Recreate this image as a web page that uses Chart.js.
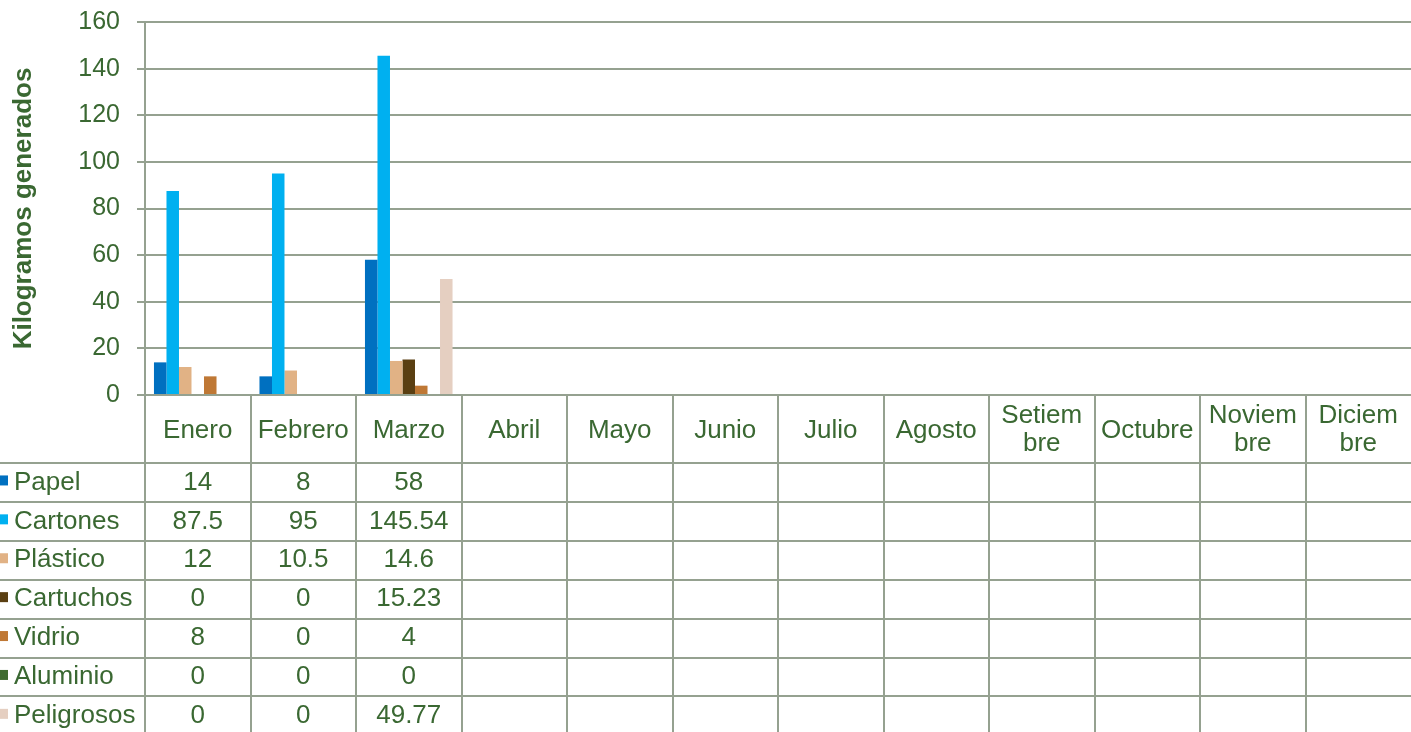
<!DOCTYPE html>
<html lang="es">
<head>
<meta charset="utf-8">
<title>Kilogramos generados</title>
<script src="https://cdn.jsdelivr.net/npm/chart.js@4.4.0/dist/chart.umd.min.js"></script>
<style>
    html, body { margin: 0; padding: 0; background: #ffffff; }
    canvas { display: block; }
</style>
</head>
<body>
<canvas id="graficoResiduos" width="1411" height="732"></canvas>
<script>
// Datos del gráfico
const meses = ['Enero', 'Febrero', 'Marzo', 'Abril', 'Mayo', 'Junio', 'Julio', 'Agosto',
    ['Setiem', 'bre'], 'Octubre', ['Noviem', 'bre'], ['Diciem', 'bre']];

const papel      = [14, 8, 58, null, null, null, null, null, null, null, null, null];
const cartones   = [87.5, 95, 145.54, null, null, null, null, null, null, null, null, null];
const plastico   = [12, 10.5, 14.6, null, null, null, null, null, null, null, null, null];
const cartuchos  = [0, 0, 15.23, null, null, null, null, null, null, null, null, null];
const vidrio     = [8, 0, 4, null, null, null, null, null, null, null, null, null];
const aluminio   = [0, 0, 0, null, null, null, null, null, null, null, null, null];
const peligrosos = [0, 0, 49.77, null, null, null, null, null, null, null, null, null];

const nombres = ['Papel', 'Cartones', 'Plástico', 'Cartuchos', 'Vidrio', 'Aluminio', 'Peligrosos'];
const series  = [papel, cartones, plastico, cartuchos, vidrio, aluminio, peligrosos];
const colores = ['#0070C0', '#00B0F0', '#E1B285', '#5A3F12', '#BF7835', '#3F6B30', '#E5CFC1'];

const tituloY = 'Kilogramos generados';
const ejeMin = 0;
const ejeMax = 160;
const ejePaso = 20;

// Estilos generales
const VERDE = '#3A6832';
const GRILLA = '#95A190';
const FUENTE = '"Liberation Sans", Arial, sans-serif';
const ALTO_CABECERA = 68;
const ALTO_FILA = 38.9;

// Plugin que dibuja la tabla de datos debajo del gráfico
const tablaDatos = {
    id: 'tablaDatos',
    afterDraw(chart) {
        const ctx = chart.ctx;
        const area = chart.chartArea;
        const x = chart.scales.x;
        const anchoCol = (area.right - area.left) / meses.length;
        const arriba = area.bottom;
        const inicioFilas = arriba + ALTO_CABECERA;
        const fondo = chart.height;

        ctx.save();
        ctx.strokeStyle = GRILLA;
        ctx.lineWidth = 2;

        // Líneas horizontales de las filas
        for (let i = 0; i <= nombres.length; i++) {
            const y = Math.round(inicioFilas + i * ALTO_FILA);
            ctx.beginPath();
            ctx.moveTo(0, y);
            ctx.lineTo(area.right, y);
            ctx.stroke();
        }

        // Líneas verticales de las columnas
        for (let i = 0; i < meses.length; i++) {
            const bordeIzq = Math.round(x.getPixelForValue(i) - anchoCol / 2);
            ctx.beginPath();
            ctx.moveTo(bordeIzq, arriba);
            ctx.lineTo(bordeIzq, fondo);
            ctx.stroke();
        }

        ctx.fillStyle = VERDE;
        ctx.font = '26px ' + FUENTE;
        ctx.textAlign = 'center';
        ctx.textBaseline = 'middle';

        // Cabecera con los meses
        meses.forEach((mes, i) => {
            const cx = x.getPixelForValue(i);
            const cy = arriba + ALTO_CABECERA / 2;
            if (Array.isArray(mes)) {
                ctx.fillText(mes[0], cx, cy - 13);
                ctx.fillText(mes[1], cx, cy + 15);
            } else {
                ctx.fillText(mes, cx, cy + 2);
            }
        });

        // Filas con leyenda y valores
        series.forEach((datos, f) => {
            const cy = inicioFilas + f * ALTO_FILA + ALTO_FILA / 2;

            ctx.fillStyle = colores[f];
            ctx.fillRect(-2, cy - 7, 10, 10);

            ctx.fillStyle = VERDE;
            ctx.textAlign = 'left';
            ctx.fillText(nombres[f], 14, cy);

            ctx.textAlign = 'center';
            datos.forEach((valor, i) => {
                if (valor === null) return;
                ctx.fillText(String(valor), x.getPixelForValue(i), cy);
            });
        });

        ctx.restore();
    }
};

new Chart(document.getElementById('graficoResiduos'), {
    type: 'bar',
    data: {
        labels: meses,
        datasets: series.map((datos, i) => ({
            label: nombres[i],
            data: datos,
            backgroundColor: colores[i],
            borderWidth: 0,
            categoryPercentage: 0.83,
            barPercentage: 1
        }))
    },
    options: {
        responsive: false,
        animation: false,
        layout: {
            padding: { top: 22, right: 0, bottom: 337, left: 0 }
        },
        plugins: {
            legend: { display: false },
            tooltip: { enabled: false }
        },
        scales: {
            x: {
                display: false
            },
            y: {
                min: ejeMin,
                max: ejeMax,
                afterFit(escala) {
                    escala.width = 145;
                    escala.paddingTop = 0;
                    escala.paddingBottom = 0;
                },
                ticks: {
                    stepSize: ejePaso,
                    color: VERDE,
                    padding: 17,
                    font: { family: FUENTE, size: 25 }
                },
                grid: {
                    color: GRILLA,
                    lineWidth: 2,
                    tickLength: 8
                },
                border: {
                    color: GRILLA,
                    width: 2
                },
                title: {
                    display: true,
                    text: tituloY,
                    color: VERDE,
                    padding: { top: 8, bottom: 0 },
                    font: { family: FUENTE, size: 26, weight: 'bold' }
                }
            }
        }
    },
    plugins: [tablaDatos]
});
</script>
</body>
</html>
